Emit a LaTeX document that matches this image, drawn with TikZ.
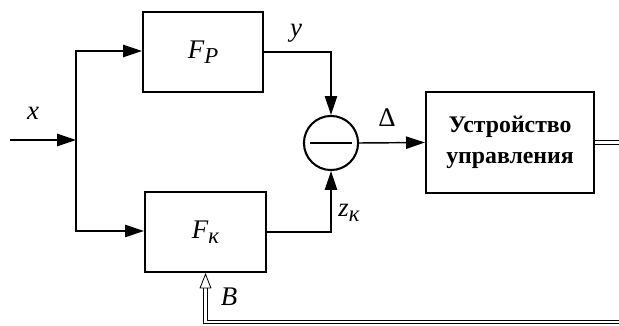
\documentclass[tikz,border=0pt]{standalone}
\usepackage{fontspec}
\setmainfont{Liberation Serif}
\usetikzlibrary{arrows.meta}

\begin{document}
\begin{tikzpicture}[x=0.17mm,y=-0.17mm,line width=0.7pt,
  blk/.style={draw,line width=1pt,inner sep=0pt},
  arr/.style={-{Triangle[length=3.2mm,width=2.1mm]}},
  dbl/.style={double,double distance=0.5mm,line width=0.4pt},
  lbl/.style={font=\fontsize{13}{15}\selectfont\itshape}]
\useasboundingbox (0,0) rectangle (619,325);
% blocks
\node[blk,lbl,minimum width=20.4mm,minimum height=13.6mm] (fp) at (203,52) {F\raisebox{-0.45ex}{\fontsize{11}{13}\selectfont P}};
\node[blk,lbl,minimum width=20.6mm,minimum height=13.6mm] (fk) at (205.5,232) {F\raisebox{-0.45ex}{\fontsize{11}{13}\selectfont к}};
\node[draw,circle,line width=1pt,minimum size=9.2mm,inner sep=0pt] (sum) at (331,143) {};
\node[blk,minimum width=28.6mm,minimum height=17.2mm,align=center,
  font=\fontsize{11.5}{15}\selectfont\bfseries] (cu) at (510,142.5) {Устройство\\управления};
% minus sign
\draw[line width=1pt] ([xshift=-3.6mm]sum.center) -- ([xshift=3.6mm]sum.center);
% input and branches
\coordinate (in) at (10,140);
\coordinate (j) at (76,140);
\coordinate (jt) at (76,51);
\coordinate (jb) at (76,231);
\draw[arr] (in) -- (j);
\draw[arr] (j) -- (jt) -- (jt -| fp.west);
\draw[arr] (j) -- (jb) -- (jb -| fk.west);
% outputs to the comparator
\draw[arr] (fp.east) -| (sum.north);
\draw[arr] (fk.east) -| (sum.south);
\draw[arr] (sum.east) -- (cu.west);
% double lines
\coordinate (out) at (619,142.5);
\coordinate (fb) at (619,322);
\draw[dbl] (cu.east) -- (out);
\draw[dbl,-{Triangle[open,length=2.6mm,width=2mm]}] (fb) -| (fk.south);
% labels
\node[lbl] (lx) at (33,113) {x};
\node[lbl] (ly) at (296,33) {y};
\node[font=\fontsize{13}{15}\selectfont] (ld) at (387,118) {Δ};
\node[lbl] (lz) at (349,213) {z\raisebox{-0.45ex}{\fontsize{11}{13}\selectfont к}};
\node[lbl] (lb) at (229,297) {B};
\end{tikzpicture}
\end{document}
